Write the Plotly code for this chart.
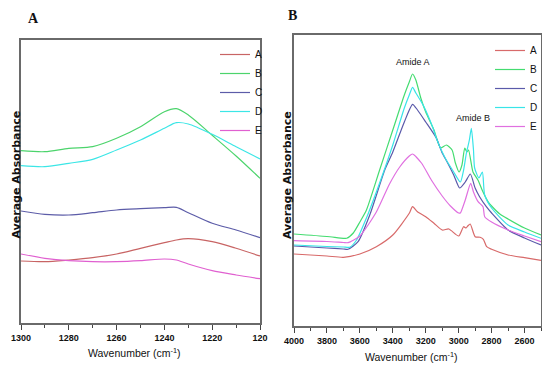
import plotly.graph_objects as go

# ---------------- Panel A data (1300-1200 cm-1) ----------------
wn_a = [1300, 1290, 1280, 1270, 1260, 1250, 1240, 1235, 1230, 1220, 1210, 1200]
a_A = [0.62, 0.613, 0.63, 0.653, 0.69, 0.747, 0.803, 0.83, 0.843, 0.813, 0.747, 0.67]
a_B = [1.723, 1.713, 1.747, 1.763, 1.847, 1.963, 2.113, 2.143, 2.08, 1.877, 1.67, 1.447]
a_C = [1.12, 1.087, 1.08, 1.103, 1.13, 1.143, 1.153, 1.157, 1.103, 0.997, 0.93, 0.853]
a_D = [1.573, 1.563, 1.597, 1.637, 1.73, 1.83, 1.947, 2.003, 1.99, 1.887, 1.763, 1.64]
a_E = [0.69, 0.647, 0.623, 0.613, 0.613, 0.623, 0.64, 0.63, 0.59, 0.523, 0.48, 0.443]
ticks_a = [1300, 1280, 1260, 1240, 1220, 1200]
ticktext_a = ["1300", "1280", "1260", "1240", "1220", "120"]

# ---------------- Panel B data (4000-2500 cm-1) ----------------
wn_bA = [4000, 3800, 3700, 3600, 3500, 3400, 3300, 3280, 3250, 3200, 3150, 3100, 3060, 3000,
         2970, 2955, 2945, 2930, 2900, 2870, 2850, 2830, 2800, 2700, 2600, 2500]
b_A = [0.72, 0.70, 0.687, 0.72, 0.793, 0.91, 1.127, 1.193, 1.143, 1.093, 1.027, 0.96, 0.97, 0.90,
       0.993, 0.98, 1.0, 1.02, 0.893, 0.887, 0.867, 0.793, 0.767, 0.71, 0.683, 0.657]

wn_bB = [4000, 3800, 3700, 3680, 3640, 3600, 3560, 3480, 3400, 3330, 3300, 3280, 3260, 3230, 3200,
         3150, 3110, 3075, 3040, 3020, 2998, 2980, 2963, 2950, 2940, 2913, 2883, 2852, 2820, 2800,
         2750, 2700, 2600, 2500]
b_B = [0.92, 0.895, 0.877, 0.877, 0.93, 1.04, 1.16, 1.56, 1.96, 2.31, 2.44, 2.52, 2.46, 2.28, 2.14,
       1.96, 1.78, 1.81, 1.76, 1.63, 1.54, 1.61, 1.78, 1.74, 1.76, 1.54, 1.46, 1.34, 1.24, 1.20,
       1.12, 1.07, 0.98, 0.91]

wn_bC = [4000, 3800, 3700, 3672, 3611, 3540, 3449, 3400, 3330, 3280, 3250, 3200, 3136, 3100, 3070,
         3030, 2994, 2960, 2929, 2900, 2873, 2832, 2800, 2700, 2600, 2500]
b_C = [0.80, 0.78, 0.77, 0.767, 0.843, 1.11, 1.56, 1.74, 2.04, 2.217, 2.16, 2.04, 1.88, 1.73, 1.64,
       1.51, 1.38, 1.44, 1.52, 1.38, 1.293, 1.193, 1.13, 0.96, 0.88, 0.81]

wn_bD = [4000, 3800, 3700, 3662, 3620, 3560, 3480, 3400, 3330, 3300, 3280, 3260, 3216, 3156, 3136,
         3100, 3075, 3030, 2990, 2970, 2953, 2935, 2923, 2910, 2903, 2877, 2856, 2842, 2800, 2700,
         2600, 2500]
b_D = [0.81, 0.795, 0.79, 0.787, 0.86, 1.08, 1.43, 1.81, 2.18, 2.31, 2.387, 2.33, 2.21, 1.98, 1.88,
       1.74, 1.66, 1.54, 1.44, 1.56, 1.73, 1.86, 1.977, 1.76, 1.58, 1.48, 1.54, 1.31, 1.18, 1.01,
       0.94, 0.877]

wn_bE = [4000, 3800, 3700, 3672, 3600, 3500, 3420, 3358, 3300, 3280, 3226, 3166, 3100, 3050, 3000,
         2990, 2960, 2927, 2910, 2882, 2852, 2842, 2800, 2700, 2600, 2500]
b_E = [0.853, 0.845, 0.835, 0.833, 0.90, 1.14, 1.42, 1.59, 1.70, 1.72, 1.63, 1.46, 1.30, 1.20, 1.13,
       1.13, 1.26, 1.427, 1.34, 1.243, 1.193, 1.093, 1.04, 0.96, 0.90, 0.843]
ticks_b = [4000, 3800, 3600, 3400, 3200, 3000, 2800, 2600]
ticktext_b = [str(t) for t in ticks_b]

names = ["A", "B", "C", "D", "E"]
colors_a = ["#c86464", "#4cd46c", "#5c5ca8", "#3ce6e6", "#e060d0"]
colors_b = ["#d86a6a", "#44dc70", "#5a5aaa", "#38e4e8", "#e070e0"]

# the page body has an 8px margin: the figure is placed at (8, 8)
OFF = 8
W, H = 550 - OFF, 367 - OFF
def px(x):
    return (x - OFF) / W
def py(y):
    return 1 - (y - OFF) / H

SANS = "Liberation Sans, Arial, sans-serif"

fig = go.Figure()
series_a = [a_A, a_B, a_C, a_D, a_E]
for n, ys, c in zip(names, series_a, colors_a):
    fig.add_trace(go.Scatter(x=wn_a, y=ys, name=n, mode="lines",
                             line=dict(color=c, width=1.2, shape="spline", smoothing=0.8),
                             xaxis="x", yaxis="y", legend="legend"))
series_b = [(wn_bA, b_A), (wn_bB, b_B), (wn_bC, b_C), (wn_bD, b_D), (wn_bE, b_E)]
for n, (xs, ys), c in zip(names, series_b, colors_b):
    fig.add_trace(go.Scatter(x=xs, y=ys, name=n, mode="lines",
                             line=dict(color=c, width=1.2, shape="spline", smoothing=0.6),
                             xaxis="x2", yaxis="y2", legend="legend2"))

tickfont = dict(family=SANS, size=9, color="#111", weight="bold")
axis_common = dict(showline=True, linecolor="#6a6a6a", linewidth=1.5, mirror=True,
                   showgrid=False, zeroline=False)

fig.update_layout(
    width=W, height=H, autosize=False,
    margin=dict(l=0, r=0, t=0, b=0, autoexpand=False),
    paper_bgcolor="white", plot_bgcolor="white",
    xaxis=dict(domain=[px(21), px(260)], range=[1300, 1200], anchor="y",
               tickvals=ticks_a, ticktext=ticktext_a, ticks="outside", ticklen=5,
               tickcolor="#444", tickfont=tickfont,
               minor=dict(dtick=10, ticks="outside", ticklen=3, tickcolor="#444"),
               **axis_common),
    yaxis=dict(domain=[py(323), py(40)], range=[0, 2.83], anchor="x",
               showticklabels=False, ticks="", **axis_common),
    xaxis2=dict(domain=[px(294), px(541)], range=[4000, 2500], anchor="y2",
                tickvals=ticks_b, ticktext=ticktext_b, ticks="outside", ticklen=5,
                tickcolor="#444", tickfont=tickfont,
                minor=dict(dtick=100, ticks="outside", ticklen=3, tickcolor="#444"),
                **axis_common),
    yaxis2=dict(domain=[py(326), py(35)], range=[0, 2.91], anchor="x2",
                showticklabels=False, ticks="", **axis_common),
    legend=dict(x=px(215), y=py(40), xanchor="left", yanchor="top",
                bgcolor="rgba(0,0,0,0)", tracegroupgap=0,
                font=dict(family=SANS, size=10, color="#111")),
    legend2=dict(x=px(490), y=py(36), xanchor="left", yanchor="top",
                 bgcolor="rgba(0,0,0,0)", tracegroupgap=0,
                 font=dict(family=SANS, size=10, color="#111")),
    showlegend=True,
)

ytitle_font = dict(family="DejaVu Sans", size=11, color="#111")
xtitle_font = dict(family=SANS, size=10.5, color="#111")
C = dict(xanchor="center", yanchor="middle", showarrow=False)
annotations = [
    dict(text="<b>A</b>", x=px(33), y=py(18), xref="paper", yref="paper",
         font=dict(family="Liberation Serif", size=14, color="#111"), **C),
    dict(text="<b>B</b>", x=px(292), y=py(16), xref="paper", yref="paper",
         font=dict(family="Liberation Serif", size=14, color="#111"), **C),
    dict(text="<b>Average Absorbance</b>", x=px(15.5), y=py(175), xref="paper", yref="paper",
         textangle=-90, font=ytitle_font, **C),
    dict(text="<b>Average Absorbance</b>", x=px(287), y=py(175), xref="paper", yref="paper",
         textangle=-90, font=ytitle_font, **C),
    dict(text="Wavenumber (cm<sup>-1</sup>)", x=px(134), y=py(352), xref="paper", yref="paper",
         font=xtitle_font, **C),
    dict(text="Wavenumber (cm<sup>-1</sup>)", x=px(411), y=py(356), xref="paper", yref="paper",
         font=xtitle_font, **C),
    dict(text="Amide A", x=3275, y=2.64, xref="x2", yref="y2",
         font=dict(family=SANS, size=9, color="#111"), **C),
    dict(text="Amide B", x=2913, y=2.077, xref="x2", yref="y2",
         font=dict(family=SANS, size=9, color="#111"), **C),
]
fig.update_layout(annotations=annotations)

fig.write_html("out.html")
